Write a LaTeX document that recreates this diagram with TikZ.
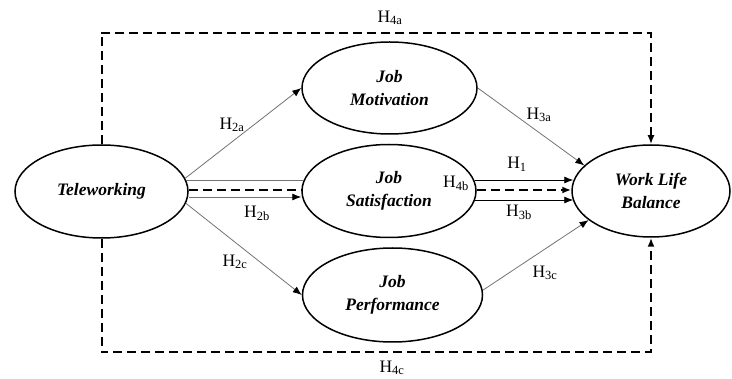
\documentclass[tikz,border=0pt]{standalone}
\usepackage{fontspec}
\setmainfont{Liberation Serif}
\usetikzlibrary{arrows.meta,shapes.geometric}
\begin{document}
\begin{tikzpicture}[x=1pt,y=-1pt,
  construct/.style={ellipse, draw=black, line width=1.5pt, fill=white, inner sep=0pt,
    minimum width=176pt, minimum height=93pt, align=center,
    font=\fontsize{17.5}{22.5}\selectfont\bfseries\itshape},
  hyp/.style={font=\fontsize{17.5}{18}\selectfont, inner sep=0pt},
  thinarrow/.style={draw=black!55, line width=0.8pt, -{Latex[length=9pt,width=7pt,color=black]}},
  thinline/.style={draw=black!55, line width=0.8pt},
  blackarrow/.style={draw=black, line width=0.8pt, -{Latex[length=9pt,width=7pt]}},
  dashline/.style={draw=black, line width=2pt, dash pattern=on 9pt off 5pt},
  dasharrow/.style={dashline, -{Latex[length=9pt,width=7pt]}}]
\useasboundingbox (0,0) rectangle (732,379);
\newcommand{\hy}[1]{H\textsubscript{\fontsize{12.5}{13}\selectfont #1}}

\coordinate (tl) at (101,33);
\coordinate (tr) at (651,33);
\coordinate (bl) at (101,352);
\coordinate (br) at (651,352);

\node[construct, minimum width=173pt] (tele) at (101.5,191.5) {Teleworking};
\node[construct, minimum width=175pt, minimum height=92pt] (mot) at (389.5,88) {Job\\Motivation};
\node[construct, minimum width=174pt] (sat) at (389,191) {Job\\Satisfaction};
\node[construct, minimum width=180pt, minimum height=94pt] (perf) at (392.5,295) {Job\\Performance};
\node[construct, minimum width=158pt, minimum height=92pt] (wlb) at (651,191) {Work Life\\Balance};

\draw[dasharrow] (tele.north) |- (tl) -- (tr) -- (wlb.north);
\draw[dasharrow] (tele.south) |- (bl) -- (br) -- (wlb.south);

\draw[thinarrow] (tele.9) -- (mot.west);
\draw[thinarrow] (tele.-8) -- (perf.west);
\draw[thinline] ([yshift=11pt,xshift=-3pt]tele.east) -- ([yshift=11pt,xshift=2pt]tele.east -| sat.west);
\draw[dashline] ([yshift=1pt]tele.east) -- ([yshift=1pt]tele.east -| sat.west);
\draw[thinarrow] ([yshift=-5.5pt]tele.east) -- ([yshift=-5.5pt]tele.east -| sat.west);

\draw[thinarrow] (mot.east) -- (wlb.159);
\draw[thinarrow] (perf.3) -- (wlb.205);
\draw[blackarrow] ([yshift=11pt,xshift=-2pt]sat.east) -- ([yshift=11pt,xshift=2pt]wlb.west);
\draw[dasharrow] ([yshift=1pt]sat.east) -- ([yshift=1pt]wlb.west);
\draw[blackarrow] ([yshift=-9pt,xshift=-2pt]sat.east) -- ([yshift=-9pt,xshift=2pt]wlb.west);

\node[hyp] (h4a) at (390,18) {\hy{4a}};
\node[hyp] (h2a) at (232,125) {\hy{2a}};
\node[hyp] (h3a) at (539,115) {\hy{3a}};
\node[hyp] (h1) at (517,164) {\hy{1}};
\node[hyp] (h4b) at (456,183) {\hy{4b}};
\node[hyp] (h3b) at (519,212) {\hy{3b}};
\node[hyp] (h2b) at (257,213) {\hy{2b}};
\node[hyp] (h2c) at (235,262) {\hy{2c}};
\node[hyp] (h3c) at (545,273) {\hy{3c}};
\node[hyp] (h4c) at (392,368) {\hy{4c}};
\end{tikzpicture}
\end{document}
